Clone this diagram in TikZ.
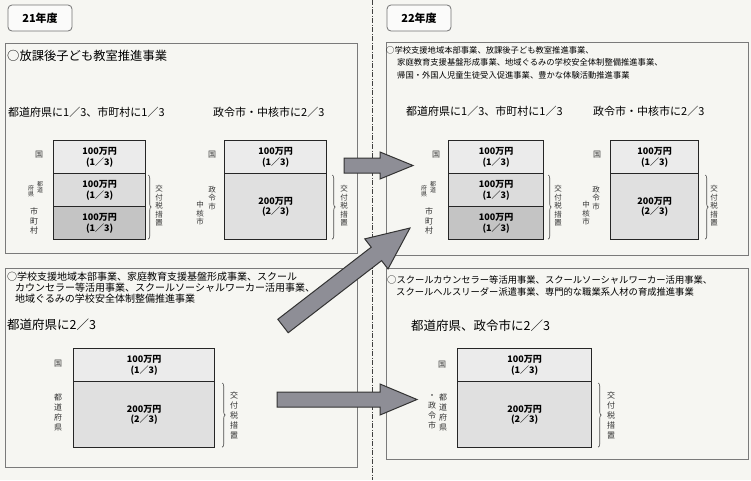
\documentclass[tikz,border=0pt]{standalone}
\usepackage{fontspec}
\setmainfont{Noto Sans CJK JP}
\usetikzlibrary{decorations.pathreplacing}
\definecolor{bg}{HTML}{F6F6F2}
\definecolor{pline}{HTML}{7A7A7A}
\definecolor{cA}{HTML}{EBEBEB}
\definecolor{cB}{HTML}{DCDCDC}
\definecolor{cC}{HTML}{C4C4C4}
\definecolor{cD}{HTML}{E0E0E0}
\definecolor{arr}{HTML}{8E8E96}
\newcommand{\myfs}[2]{\fontsize{#1}{#2}\selectfont}
\begin{document}
\begin{tikzpicture}[x=1pt,y=-1pt,
  panel/.style={draw=pline, line width=0.8pt, inner sep=0, anchor=north west},
  cell/.style={draw=black!85, line width=1.2pt, inner sep=0, anchor=north west, align=center, font=\bfseries\myfs{9}{10.5}},
  yr/.style={draw=black!55, line width=0.8pt, rounded corners=4pt, fill=white!60!bg, minimum width=64pt, minimum height=26pt, inner sep=0, font=\bfseries\myfs{11}{11}},
  vt/.style={align=center, inner sep=0, font=\myfs{7.5}{8.5}, text=black!80},
  vs/.style={align=center, inner sep=0, font=\myfs{6}{6.5}, text=black!80},
  vm/.style={align=center, inner sep=0, font=\myfs{8}{9.5}, text=black!80},
  vb/.style={align=center, inner sep=0, font=\myfs{8}{10}, text=black!80},
  txt/.style={anchor=west, inner sep=0},
  brc/.style={decorate, decoration={brace, amplitude=3pt}, draw=black!70, line width=0.6pt},
  blk/.style={fill=arr, draw=black!80, line width=1pt, line join=miter},
  dashdot/.style={draw=black!75, line width=0.9pt, dash pattern=on 5pt off 1.5pt on 1pt off 1.5pt}
]
\useasboundingbox (0,0) rectangle (751,480);
\fill[bg] (0,0) rectangle (751,480);

% divider
\coordinate (vtop) at (372,0);
\coordinate (vbot) at (372,480);
\draw[dashdot] (vtop) -- (vbot);

% year labels
\node[yr] (y21) at (40,18) {21年度};
\node[yr] (y22) at (419,18) {22年度};

% panels
\node[panel, minimum width=352pt, minimum height=210pt] (p1) at (5,43) {};
\node[panel, minimum width=362pt, minimum height=213pt] (p2) at (386,42) {};
\node[panel, minimum width=352pt, minimum height=199pt] (p3) at (5,268) {};
\node[panel, minimum width=362pt, minimum height=191pt] (p4) at (386,268) {};

% panel 1 texts
\node[txt, font=\myfs{12.3}{12.3}] (t1) at (7,56) {○放課後子ども教室推進事業};
\node[txt, font=\myfs{11}{11}] (t1a) at (8,112) {都道府県に1／3、市町村に1／3};
\node[txt, font=\myfs{11}{11}] (t1b) at (213,112) {政令市・中核市に2／3};

% panel 2 texts
\node[txt, font=\myfs{8.3}{8.3}] (t2l1) at (386,50) {○学校支援地域本部事業、放課後子ども教室推進事業、};
\node[txt, font=\myfs{8.3}{8.3}] (t2l2) at (397,62.5) {家庭教育支援基盤形成事業、地域ぐるみの学校安全体制整備推進事業、};
\node[txt, font=\myfs{8.3}{8.3}] (t2l3) at (397,75) {帰国・外国人児童生徒受入促進事業、豊かな体験活動推進事業};
\node[txt, font=\myfs{11}{11}] (t2a) at (406,111) {都道府県に1／3、市町村に1／3};
\node[txt, font=\myfs{11}{11}] (t2b) at (593,111) {政令市・中核市に2／3};

% panel 3 texts
\node[txt, font=\myfs{10}{10}] (t3l1) at (7,277) {○学校支援地域本部事業、家庭教育支援基盤形成事業、スクール};
\node[txt, font=\myfs{10}{10}] (t3l2) at (15,288) {カウンセラー等活用事業、スクールソーシャルワーカー活用事業、};
\node[txt, font=\myfs{10}{10}] (t3l3) at (15,299) {地域ぐるみの学校安全体制整備推進事業};
\node[txt, font=\myfs{12.5}{12.5}] (t3a) at (7,325) {都道府県に2／3};

% panel 4 texts
\node[txt, font=\myfs{9.3}{9.3}] (t4l1) at (387,280) {○スクールカウンセラー等活用事業、スクールソーシャルワーカー活用事業、};
\node[txt, font=\myfs{9.3}{9.3}] (t4l2) at (396,292) {スクールヘルスリーダー派遣事業、専門的な職業系人材の育成推進事業};
\node[txt, font=\myfs{12.5}{12.5}] (t4a) at (411,326) {都道府県、政令市に2／3};

% box 1
\node[cell, fill=cA, minimum width=92pt, minimum height=33pt] (b1a) at (53,140) {100万円\\(1／3)};
\node[cell, fill=cB, minimum width=92pt, minimum height=33pt] (b1b) at (53,173) {100万円\\(1／3)};
\node[cell, fill=cC, minimum width=92pt, minimum height=33pt] (b1c) at (53,206) {100万円\\(1／3)};
\node[vm] (l1a) at (39,155) {国};
\node[vs] (l1b) at (40,187) {都\\道};
\node[vs] (l1c) at (31,191) {府\\県};
\node[vm] (l1d) at (34,221) {市\\町\\村};
\draw[brc] ([xshift=2pt,yshift=-2pt]b1b.north east) -- ([xshift=2pt,yshift=1pt]b1c.south east);
\node[vt] (k1) at (159,206) {交\\付\\税\\措\\置};

% box 2
\node[cell, fill=cA, minimum width=102pt, minimum height=33pt] (b2a) at (224,140) {100万円\\(1／3)};
\node[cell, fill=cD, minimum width=102pt, minimum height=66pt] (b2b) at (224,173) {200万円\\(2／3)};
\node[vm] (l2a) at (212,155) {国};
\node[vt] (l2b) at (212,198) {政\\令\\市};
\node[vt] (l2c) at (200,213.5) {中\\核\\市};
\draw[brc] ([xshift=5pt,yshift=-2pt]b2b.north east) -- ([xshift=5pt,yshift=1pt]b2b.south east);
\node[vt] (k2) at (344,206) {交\\付\\税\\措\\置};

% box 3
\node[cell, fill=cA, minimum width=95pt, minimum height=33pt] (b3a) at (448,140) {100万円\\(1／3)};
\node[cell, fill=cB, minimum width=95pt, minimum height=33pt] (b3b) at (448,173) {100万円\\(1／3)};
\node[cell, fill=cC, minimum width=95pt, minimum height=33pt] (b3c) at (448,206) {100万円\\(1／3)};
\node[vm] (l3a) at (436,155) {国};
\node[vs] (l3b) at (433,187) {都\\道};
\node[vs] (l3c) at (424,191) {府\\県};
\node[vm] (l3d) at (429,221) {市\\町\\村};
\draw[brc] ([xshift=4pt,yshift=-2pt]b3b.north east) -- ([xshift=4pt,yshift=1pt]b3c.south east);
\node[vt] (k3) at (558,206) {交\\付\\税\\措\\置};

% box 4
\node[cell, fill=cA, minimum width=88pt, minimum height=33pt] (b4a) at (610,140) {100万円\\(1／3)};
\node[cell, fill=cD, minimum width=88pt, minimum height=66pt] (b4b) at (610,173) {200万円\\(2／3)};
\node[vm] (l4a) at (597,155) {国};
\node[vt] (l4b) at (596,198) {政\\令\\市};
\node[vt] (l4c) at (586,213.5) {中\\核\\市};
\draw[brc] ([xshift=6pt,yshift=-2pt]b4b.north east) -- ([xshift=6pt,yshift=1pt]b4b.south east);
\node[vt] (k4) at (714,206) {交\\付\\税\\措\\置};

% box 5
\node[cell, fill=cA, minimum width=141pt, minimum height=33pt] (b5a) at (73,348) {100万円\\(1／3)};
\node[cell, fill=cD, minimum width=141pt, minimum height=66pt] (b5b) at (73,381) {200万円\\(2／3)};
\node[vm] (l5a) at (58,364) {国};
\node[vb] (l5b) at (58,412) {都\\道\\府\\県};
\draw[brc] ([xshift=7pt,yshift=-2pt]b5b.north east) -- ([xshift=7pt,yshift=1pt]b5b.south east);
\node[vb] (k5) at (234,415) {交\\付\\税\\措\\置};

% box 6
\node[cell, fill=cA, minimum width=134pt, minimum height=33pt] (b6a) at (457,348) {100万円\\(1／3)};
\node[cell, fill=cD, minimum width=134pt, minimum height=66pt] (b6b) at (457,381) {200万円\\(2／3)};
\node[vm] (l6a) at (442,365) {国};
\node[vb] (l6b) at (443,412) {都\\道\\府\\県};
\node[vb] (l6c) at (432,412) {・\\政\\令\\市};
\draw[brc] ([xshift=6pt,yshift=-2pt]b6b.north east) -- ([xshift=6pt,yshift=1pt]b6b.south east);
\node[vb] (k6) at (611,415) {交\\付\\税\\措\\置};

% block arrows
\coordinate (a1t) at (344,165.5);
\coordinate (a2t) at (283,326);
\coordinate (a3t) at (277,399.5);
\begin{scope}[shift={(a1t)}]
  \draw[blk] (0,7.5) -- (36,7.5) -- (36,13.5) -- (69,0) -- (36,-13.5) -- (36,-7.5) -- (0,-7.5) -- cycle;
\end{scope}
\begin{scope}[shift={(a2t)}, rotate=37.66]
  \draw[blk] (0,8.5) -- (118,8.5) -- (118,19) -- (160.4,0) -- (118,-19) -- (118,-8.5) -- (0,-8.5) -- cycle;
\end{scope}
\begin{scope}[shift={(a3t)}]
  \draw[blk] (0,7.5) -- (103,7.5) -- (103,15.5) -- (140,0) -- (103,-15.5) -- (103,-7.5) -- (0,-7.5) -- cycle;
\end{scope}
\end{tikzpicture}
\end{document}
